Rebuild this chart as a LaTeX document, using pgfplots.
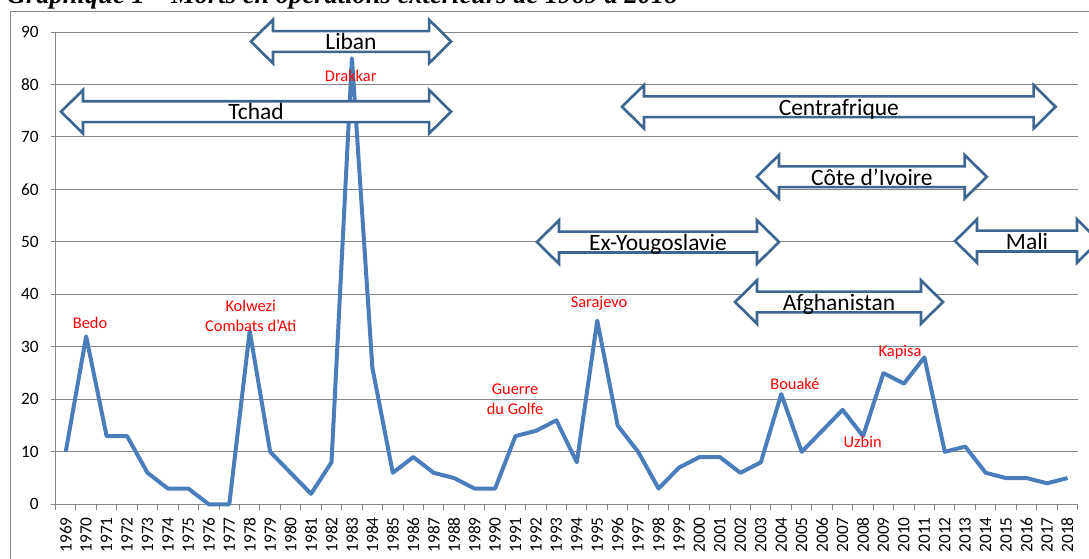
\documentclass[border=0pt]{standalone}
\usepackage{fontspec}
\setmainfont{Carlito}
\newfontfamily\titlefont{Liberation Serif}
\usepackage{pgfplots}
\pgfplotsset{compat=1.18}
\usetikzlibrary{calc}
\definecolor{linec}{HTML}{4A7EBB}
\definecolor{arrowc}{HTML}{3F6591}
\definecolor{gridc}{HTML}{868686}
\definecolor{lbl}{HTML}{FF0000}
\newcommand{\arrowfont}{\fontsize{17.6}{20}\selectfont}
\newcommand{\lblfont}{\fontsize{12.3}{15}\selectfont}
\newcommand{\darrow}[4]{%
\draw[draw=arrowc, line width=2pt, fill=white, line join=miter]
 (axis cs:#1,#3) -- ++(16.5pt,16.3pt) -- ++(0pt,-8.5pt)
 -- ($(axis cs:#2,#3)+(-16.5pt,7.8pt)$) -- ++(0pt,8.5pt)
 -- (axis cs:#2,#3) -- ++(-16.5pt,-16.3pt) -- ++(0pt,8.5pt)
 -- ($(axis cs:#1,#3)+(16.5pt,-7.8pt)$) -- ++(0pt,-8.5pt) -- cycle;
\node[font=\arrowfont, inner sep=0pt, anchor=base, yshift=-6.2pt] at ($(axis cs:#1,#3)!0.5!(axis cs:#2,#3)$) {#4};}
\begin{document}
\begin{tikzpicture}
\useasboundingbox (0,0) rectangle (816.75pt,418.5pt);
\begin{scope}
\clip (0,0) rectangle (816.75pt,418.5pt);
\draw[gridc, line width=0.75pt] (7.5pt,-20pt) rectangle (840pt,409.5pt);
\node[anchor=base west, inner sep=0pt, font=\titlefont\bfseries\itshape\fontsize{19.9}{22}\selectfont] at (5pt,415.9pt)
 {Graphique 1 – Morts en opérations extérieurs de 1969 à 2018};
\begin{axis}[
 scale only axis, width=766.65pt, height=354.225pt,
 at={(41.625pt,40.275pt)}, anchor=south west,
 xmin=1968.5, xmax=2018.5, ymin=0, ymax=90,
 clip=false,
 axis x line=bottom, axis y line=left,
 axis line style={-, draw=gridc, line width=0.75pt},
 ytick={0,10,...,90},
 ymajorgrids, grid style={draw=gridc, line width=0.75pt},
 xtick={1969,...,2018},
 minor xtick={1968.5,1969.5,...,2018.5},
 tick align=outside,
 major tick length=3.75pt, minor tick length=4.5pt,
 major x tick style={draw=none},
 tick style={draw=gridc, line width=0.75pt},
 minor tick style={draw=gridc, line width=0.75pt},
 x tick label style={/pgf/number format/1000 sep={}},
 /pgf/number format/assume math mode=true,
 tick label style={font=\fontsize{13}{15}\selectfont},
 x tick label style={rotate=90, anchor=east, inner xsep=5.75pt, inner ysep=0pt},
 y tick label style={inner sep=0pt, xshift=-8.6pt},
]
\addplot[linec, line width=3pt, line join=round, mark=none] coordinates {
(1969,10) (1970,32) (1971,13) (1972,13) (1973,6) (1974,3) (1975,3) (1976,0) (1977,0) (1978,33)
(1979,10) (1980,6) (1981,2) (1982,8) (1983,85) (1984,26) (1985,6) (1986,9) (1987,6) (1988,5)
(1989,3) (1990,3) (1991,13) (1992,14) (1993,16) (1994,8) (1995,35) (1996,15) (1997,10) (1998,3)
(1999,7) (2000,9) (2001,9) (2002,6) (2003,8) (2004,21) (2005,10) (2006,14) (2007,18) (2008,13)
(2009,25) (2010,23) (2011,28) (2012,10) (2013,11) (2014,6) (2015,5) (2016,5) (2017,4) (2018,5)
};
\node[lbl, font=\lblfont] at (axis cs:1970.19,34.59) {Bedo};
\node[lbl, font=\lblfont, align=center] at (axis cs:1978.05,35.92) {Kolwezi\\Combats d’Ati};
\node[lbl, font=\lblfont] at (axis cs:1982.94,81.61) {Drakkar};
\node[lbl, font=\lblfont, align=center] at (axis cs:1990.98,20.06) {Guerre\\du Golfe};
\node[lbl, font=\lblfont] at (axis cs:1995.09,38.36) {Sarajevo};
\node[lbl, font=\lblfont] at (axis cs:2004.67,22.92) {Bouaké};
\node[lbl, font=\lblfont] at (axis cs:2007.98,11.81) {Uzbin};
\node[lbl, font=\lblfont] at (axis cs:2009.81,29.08) {Kapisa};
\darrow{1978.06}{1987.85}{88.19}{Liban}
\darrow{1968.77}{1987.85}{74.81}{Tchad}
\darrow{1996.21}{2017.42}{75.76}{Centrafrique}
\darrow{2002.81}{2014.05}{62.42}{Côte d’Ivoire}
\darrow{1992.05}{2003.89}{49.98}{Ex-Yougoslavie}
\darrow{2012.50}{2019.54}{50.17}{Mali}
\darrow{2001.74}{2011.91}{38.55}{Afghanistan}
\end{axis}
\end{scope}
\end{tikzpicture}
\end{document}
